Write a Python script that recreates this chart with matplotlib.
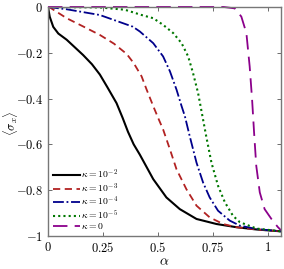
import matplotlib
matplotlib.use('Agg')
import matplotlib.pyplot as plt

plt.rcParams['mathtext.fontset'] = 'cm'
plt.rcParams['font.family'] = 'serif'

# curves: alpha, <sigma_x>
a_k2 = [0, 0.008, 0.024, 0.047, 0.085, 0.16, 0.2, 0.236, 0.27, 0.312, 0.34, 0.364, 0.39, 0.418, 0.479, 0.539, 0.6, 0.676, 0.767, 0.858, 0.95, 1.06]
s_k2 = [0, -0.043, -0.087, -0.116, -0.143, -0.21, -0.25, -0.295, -0.35, -0.42, -0.485, -0.545, -0.6, -0.645, -0.752, -0.832, -0.883, -0.926, -0.948, -0.962, -0.972, -0.98]

a_k3 = [0, 0.01, 0.085, 0.16, 0.236, 0.3, 0.358, 0.39, 0.426, 0.449, 0.479, 0.501, 0.524, 0.555, 0.585, 0.63, 0.676, 0.736, 0.797, 0.858, 0.95, 1.06]
s_k3 = [0, -0.003, -0.049, -0.085, -0.122, -0.16, -0.205, -0.245, -0.303, -0.361, -0.433, -0.484, -0.535, -0.622, -0.709, -0.796, -0.868, -0.919, -0.948, -0.962, -0.972, -0.98]

a_k4 = [0, 0.085, 0.236, 0.386, 0.418, 0.479, 0.524, 0.555, 0.585, 0.608, 0.623, 0.645, 0.676, 0.706, 0.736, 0.774, 0.827, 0.873, 0.95, 1.06]
s_k4 = [0, -0.01, -0.035, -0.086, -0.107, -0.158, -0.216, -0.281, -0.361, -0.433, -0.477, -0.564, -0.68, -0.767, -0.832, -0.89, -0.933, -0.955, -0.97, -0.98]

a_k5 = [0, 0.236, 0.35, 0.426, 0.479, 0.524, 0.57, 0.608, 0.638, 0.66, 0.683, 0.703, 0.72, 0.744, 0.774, 0.805, 0.842, 0.873, 0.95, 1.06]
s_k5 = [0, -0.002, -0.012, -0.035, -0.049, -0.078, -0.114, -0.158, -0.216, -0.288, -0.375, -0.477, -0.564, -0.68, -0.781, -0.853, -0.912, -0.94, -0.968, -0.98]

a_k0 = [0, 0.8, 0.85, 0.88, 0.903, 0.918, 0.929, 0.938, 0.948, 0.964, 0.986, 1.017, 1.045, 1.06]
s_k0 = [0, 0, -0.006, -0.042, -0.114, -0.26, -0.404, -0.548, -0.694, -0.81, -0.883, -0.926, -0.96, -0.975]

labels = [r'$\kappa = 10^{-2}$', r'$\kappa = 10^{-3}$', r'$\kappa = 10^{-4}$',
          r'$\kappa = 10^{-5}$', r'$\kappa = 0$']

fig = plt.figure(figsize=(2.84, 2.69), dpi=100)
ax = fig.add_axes([0.169, 0.123, 0.82, 0.851])

ax.plot(a_k2, s_k2, color='black', lw=1.5, label=labels[0])
ax.plot(a_k3, s_k3, color='#b22222', lw=1.3, ls=(0, (4, 2.5)), label=labels[1])
ax.plot(a_k4, s_k4, color='#00008b', lw=1.3, ls=(0, (6, 1.5, 1, 1.5)), label=labels[2])
ax.plot(a_k5, s_k5, color='#007700', lw=1.5, ls=(0, (1, 1.5)), label=labels[3])
ax.plot(a_k0, s_k0, color='#8b008b', lw=1.3, ls=(0, (8, 4)), label=labels[4], clip_on=False)

ax.set_xlim(0, 1.06)
ax.set_ylim(-1, 0)
ax.set_xticks([0, 0.25, 0.5, 0.75, 1])
ax.set_xticklabels(['$0$', '$0.25$', '$0.5$', '$0.75$', '$1$'])
ax.set_yticks([0, -0.2, -0.4, -0.6, -0.8, -1])
ax.set_yticklabels(['$0$', '$-0.2$', '$-0.4$', '$-0.6$', '$-0.8$', '$-1$'])
ax.tick_params(direction='in', top=True, right=True, labelsize=9, length=3, width=0.6,
               colors='#555555', labelcolor='black')
for sp in ax.spines.values():
    sp.set_color('#777777')
    sp.set_linewidth(1.0)

ax.set_xlabel(r'$\alpha$', fontsize=10, labelpad=0)
ax.set_ylabel(r'$\langle\sigma_x\rangle$', fontsize=9)
ax.yaxis.set_label_coords(-0.122, 0.49)

ax.legend(loc='lower left', fontsize=7, frameon=False, handlelength=2.8,
          handletextpad=0.1, labelspacing=0.0, borderaxespad=0.3, borderpad=0.2)

fig.savefig('out.png', dpi=100)
